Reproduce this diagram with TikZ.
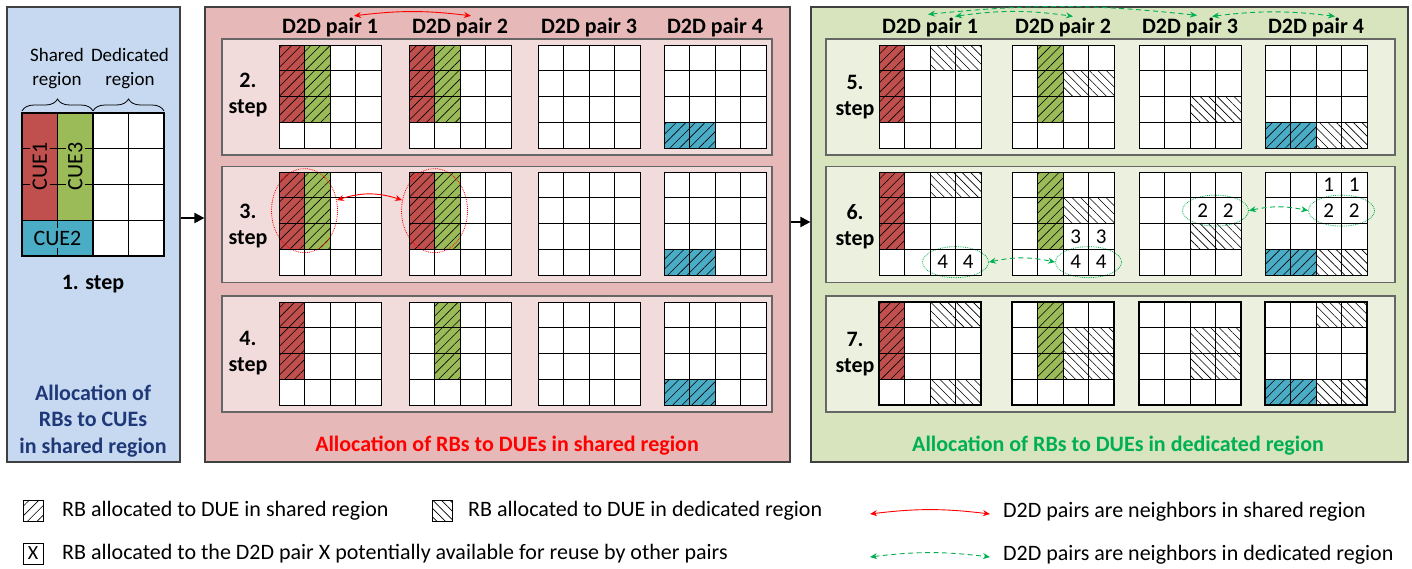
\documentclass[tikz,border=0pt]{standalone}
\usepackage{fontspec}
\setmainfont{Carlito}
\usetikzlibrary{arrows.meta, positioning, patterns.meta, shapes.geometric, decorations.pathreplacing}

\definecolor{cuered}{RGB}{192,80,77}
\definecolor{cuegreen}{RGB}{155,187,89}
\definecolor{cueblue}{RGB}{75,172,198}
\definecolor{panelblue}{RGB}{198,217,241}
\definecolor{panelred}{RGB}{230,185,184}
\definecolor{panelgreen}{RGB}{215,228,189}
\definecolor{boxred}{RGB}{242,220,219}
\definecolor{boxgreen}{RGB}{235,241,222}
\definecolor{titleblue}{RGB}{31,56,120}
\definecolor{dedgreen}{RGB}{0,176,80}

% 4x4 block of RBs, top left corner at (#2,#3), cells given in #4
\newcommand{\rbgrid}[4][cellline]{%
  \begin{scope}[shift={(#2,#3)}, x=25.5pt, y=-25.75pt]
    \fill[white] (0,0) rectangle (4,4);
    #4
    \foreach \k in {1,2,3} {
      \draw[cellline] (\k,0) -- (\k,4);
      \draw[cellline] (0,\k) -- (4,\k);
    }
    \draw[#1] (0,0) rectangle (4,4);
  \end{scope}}

\begin{document}
\begin{tikzpicture}[
    x=1pt, y=1pt,
    panel/.style={draw=black!75, line width=1.2pt, inner sep=0pt, minimum height=455pt},
    stepbox/.style={draw=black!60, line width=1.2pt, inner sep=0pt, minimum height=116pt},
    cellline/.style={black, line width=0.9pt},
    thickgrid/.style={black, line width=2.6pt},
    head/.style={font=\fontsize{22}{26}\selectfont\bfseries, inner sep=0pt},
    steplabel/.style={font=\fontsize{22}{26}\selectfont\bfseries, align=center, inner sep=0pt},
    title/.style={font=\fontsize{22}{26.5}\selectfont\bfseries, align=center, inner sep=0pt},
    regiontext/.style={font=\fontsize{19}{24}\selectfont, align=center, inner sep=0pt},
    cuetext/.style={font=\fontsize{22}{22}\selectfont, inner sep=0pt},
    num/.style={font=\fontsize{21}{21}\selectfont, inner sep=0pt},
    legendtext/.style={font=\fontsize{22}{22}\selectfont, anchor=west, inner sep=0pt},
    legendbox/.style={draw, line width=0.8pt, minimum width=20pt, minimum height=21pt, inner sep=0pt},
    sharedpat/.style={pattern={Lines[angle=45, distance=6.8pt, line width=0.6pt]}},
    shared/.style={postaction={sharedpat}},
    dedicated/.style={pattern={Lines[angle=-45, distance=6pt, line width=0.6pt]}},
    cuedash/.style={cellline, dash pattern=on 8pt off 19.5pt on 8pt off 0pt},
    sharedring/.style={ellipse, draw=red, densely dotted, line width=0.8pt, minimum width=66pt, minimum height=84pt, inner sep=0pt},
    dedring/.style={ellipse, draw=dedgreen, densely dotted, line width=0.8pt, minimum width=66pt, minimum height=31pt, inner sep=0pt},
    sharedlink/.style={red, line width=0.9pt, {Stealth[length=7pt, width=6pt]}-{Stealth[length=7pt, width=6pt]}},
    dedlink/.style={dedgreen, line width=0.9pt, dash pattern=on 5pt off 3.5pt, {Stealth[length=7pt, width=6pt]}-{Stealth[length=7pt, width=6pt]}},
    flow/.style={-{Triangle[length=10pt, width=10pt]}, line width=2pt},
    brace/.style={decorate, decoration={brace, amplitude=12pt}, line width=0.8pt}
]
\useasboundingbox (0,0) rectangle (1412,-568);

% Panels
\node[panel, fill=panelblue, minimum width=173pt] (p1) at (93.5,-234.5) {};
\node[panel, fill=panelred, minimum width=585pt] (p2) at (497.5,-234.5) {};
\node[panel, fill=panelgreen, minimum width=597pt] (p3) at (1109.5,-234.5) {};

% Step 1: RBs of the CUEs
\node[regiontext] (sreg) at (57,-69) {Shared\\region};
\node[regiontext] (dreg) at (130,-69) {Dedicated\\region};
\draw[brace] (22,-111) -- (93,-111);
\draw[brace] (93,-111) -- (164,-111);
\begin{scope}[shift={(22,-113)}, x=35.5pt, y=-35.75pt]
  \fill[white] (0,0) rectangle (4,4);
  \fill[cuered] (0,0) rectangle (1,3);
  \fill[cuegreen] (1,0) rectangle (2,3);
  \fill[cueblue] (0,3) rectangle (2,4);
  \draw[cuedash] (0,1) -- (2,1) (0,2) -- (2,2) (1,3) -- (1,4);
  \draw[cellline] (1,0) -- (1,3) (0,3) -- (2,3);
  \draw[cellline] (2,1) -- (4,1) (2,2) -- (4,2) (2,3) -- (4,3) (3,0) -- (3,4);
  \draw[thickgrid] (0,0) rectangle (4,4) (2,0) -- (2,4);
  \node[cuetext, rotate=90] (cue1) at (0.5,1.5) {CUE1};
  \node[cuetext, rotate=90] (cue3) at (1.5,1.5) {CUE3};
  \node[cuetext] (cue2) at (1,3.5) {CUE2};
\end{scope}
\node[steplabel] (s1) at (93,-284) {1. step};
\node[title, text=titleblue] (tl) at (93,-421) {Allocation of\\RBs to CUEs\\in shared region};

% Shared region: headers and step boxes
\node[head] (hm1) at (330,-28) {D2D pair 1};
\node[head] (hm2) at (460,-28) {D2D pair 2};
\node[head] (hm3) at (589,-28) {D2D pair 3};
\node[head] (hm4) at (715,-28) {D2D pair 4};
\node[stepbox, fill=boxred, minimum width=550pt] (b2) at (497,-97) {};
\node[stepbox, fill=boxred, minimum width=550pt] (b3) at (497,-224.5) {};
\node[stepbox, fill=boxred, minimum width=550pt] (b4) at (497,-354) {};
\node[steplabel] (s2) at (248,-95) {2.\\step};
\node[steplabel] (s3) at (248,-226) {3.\\step};
\node[steplabel] (s4) at (248,-353) {4.\\step};

% Step 2
\rbgrid{279}{-45}{\fill[cuered, shared] (0,0) rectangle (1,3); \fill[cuegreen, shared] (1,0) rectangle (2,3);}
\rbgrid{409}{-45}{\fill[cuered, shared] (0,0) rectangle (1,3); \fill[cuegreen, shared] (1,0) rectangle (2,3);}
\rbgrid{538}{-45}{}
\rbgrid{664}{-45}{\fill[cueblue, shared] (0,3) rectangle (2,4);}

% Step 3
\rbgrid{279}{-172}{\fill[cuered, shared] (0,0) rectangle (1,3); \fill[cuegreen, shared] (1,0) rectangle (2,3);
  \node[sharedring] (c3a) at (1,1.5) {};}
\rbgrid{409}{-172}{\fill[cuered, shared] (0,0) rectangle (1,3); \fill[cuegreen, shared] (1,0) rectangle (2,3);
  \node[sharedring] (c3b) at (1,1.5) {};}
\rbgrid{538}{-172}{}
\rbgrid{664}{-172}{\fill[cueblue, shared] (0,3) rectangle (2,4);}

% Step 4
\rbgrid{279}{-302}{\fill[cuered, shared] (0,0) rectangle (1,3);}
\rbgrid{409}{-302}{\fill[cuegreen, shared] (1,0) rectangle (2,3);}
\rbgrid{538}{-302}{}
\rbgrid{664}{-302}{\fill[cueblue, shared] (0,3) rectangle (2,4);}

\node[title, text=red] (tm) at (507,-446) {Allocation of RBs to DUEs in shared region};

% Neighbors in shared region
\draw[sharedlink] ([xshift=24pt, yshift=2.5pt]hm1.north) to[bend left=7] ([xshift=11pt, yshift=2.5pt]hm2.north);
\draw[sharedlink] (c3a.18) to[bend left=18] (c3b.162);

% Dedicated region: headers and step boxes
\node[head] (hr1) at (930,-28) {D2D pair 1};
\node[head] (hr2) at (1063,-28) {D2D pair 2};
\node[head] (hr3) at (1190,-28) {D2D pair 3};
\node[head] (hr4) at (1316,-28) {D2D pair 4};
\node[stepbox, fill=boxgreen, minimum width=569pt] (b5) at (1110.5,-97) {};
\node[stepbox, fill=boxgreen, minimum width=569pt] (b6) at (1110.5,-224.5) {};
\node[stepbox, fill=boxgreen, minimum width=569pt] (b7) at (1110.5,-354) {};
\node[steplabel] (s5) at (855,-97) {5.\\step};
\node[steplabel] (s6) at (855,-227) {6.\\step};
\node[steplabel] (s7) at (855,-354) {7.\\step};

% Step 5
\rbgrid{879}{-45}{\fill[cuered, shared] (0,0) rectangle (1,3); \path[dedicated] (2,0) rectangle (4,1);}
\rbgrid{1012}{-45}{\fill[cuegreen, shared] (1,0) rectangle (2,3); \path[dedicated] (2,1) rectangle (4,2);}
\rbgrid{1139}{-45}{\path[dedicated] (2,2) rectangle (4,3);}
\rbgrid{1265}{-45}{\fill[cueblue, shared] (0,3) rectangle (2,4); \path[dedicated] (2,3) rectangle (4,4);}

% Step 6
\rbgrid{879}{-172}{\fill[cuered, shared] (0,0) rectangle (1,3); \path[dedicated] (2,0) rectangle (4,1);
  \node[num] (n61a) at (2.5,3.5) {4}; \node[num] (n61b) at (3.5,3.5) {4};
  \node[dedring] (e61) at (3,3.5) {};}
\rbgrid{1012}{-172}{\fill[cuegreen, shared] (1,0) rectangle (2,3); \path[dedicated] (2,1) rectangle (4,2);
  \node[num] (n62a) at (2.5,2.5) {3}; \node[num] (n62b) at (3.5,2.5) {3};
  \node[num] (n62c) at (2.5,3.5) {4}; \node[num] (n62d) at (3.5,3.5) {4};
  \node[dedring] (e62) at (3,3.5) {};}
\rbgrid{1139}{-172}{\path[dedicated] (2,2) rectangle (4,3);
  \node[num] (n63a) at (2.5,1.5) {2}; \node[num] (n63b) at (3.5,1.5) {2};
  \node[dedring] (e63) at (3,1.5) {};}
\rbgrid{1265}{-172}{\fill[cueblue, shared] (0,3) rectangle (2,4); \path[dedicated] (2,3) rectangle (4,4);
  \node[num] (n64a) at (2.5,0.5) {1}; \node[num] (n64b) at (3.5,0.5) {1};
  \node[num] (n64c) at (2.5,1.5) {2}; \node[num] (n64d) at (3.5,1.5) {2};
  \node[dedring] (e64) at (3,1.5) {};}

% Step 7
\rbgrid[thickgrid]{879}{-302}{\fill[cuered, shared] (0,0) rectangle (1,3); \path[dedicated] (2,0) rectangle (4,1); \path[dedicated] (2,3) rectangle (4,4);}
\rbgrid[thickgrid]{1012}{-302}{\fill[cuegreen, shared] (1,0) rectangle (2,3); \path[dedicated] (2,1) rectangle (4,3);}
\rbgrid[thickgrid]{1139}{-302}{\path[dedicated] (2,1) rectangle (4,3);}
\rbgrid[thickgrid]{1265}{-302}{\fill[cueblue, shared] (0,3) rectangle (2,4); \path[dedicated] (2,0) rectangle (4,1); \path[dedicated] (2,3) rectangle (4,4);}

\node[title, text=dedgreen] (tr) at (1118,-446) {Allocation of RBs to DUEs in dedicated region};

% Neighbors in dedicated region
\draw[dedlink] ([xshift=25pt, yshift=2pt]hr1.north) to[bend left=8] ([xshift=10pt, yshift=2pt]hr2.north);
\draw[dedlink] ([xshift=-2pt, yshift=4pt]hr1.north) to[bend left=6] ([xshift=7pt, yshift=3pt]hr3.north);
\draw[dedlink] ([xshift=22pt, yshift=2pt]hr3.north) to[bend left=7] ([xshift=19pt, yshift=2pt]hr4.north);
\draw[dedlink] (e61.east) to[bend left=12] (e62.west);
\draw[dedlink] (e63.east) to[bend left=12] (e64.west);

% Flow between panels
\draw[flow] ([yshift=16.5pt]p1.east) -- ([yshift=16.5pt]p2.west);
\draw[flow] ([yshift=12.5pt]p2.east) -- ([yshift=12.5pt]p3.west);

% Legend
\node[legendbox, sharedpat] (lg1) at (33,-510.5) {};
\node[legendtext] (lt1) at (62,-511) {RB allocated to DUE in shared region};
\node[legendbox, dedicated] (lg2) at (442,-510.5) {};
\node[legendtext] (lt2) at (468,-511) {RB allocated to DUE in dedicated region};
\node[legendbox, font=\fontsize{20}{20}\selectfont] (lg3) at (33,-553.5) {X};
\node[legendtext] (lt3) at (62,-554) {RB allocated to the D2D pair X potentially available for reuse by other pairs};
\coordinate (ls1) at (870,-514);
\coordinate (ls2) at (990,-514);
\draw[sharedlink] (ls1) to[bend left=7] (ls2);
\node[legendtext] (lt4) at (1003,-512) {D2D pairs are neighbors in shared region};
\coordinate (ld1) at (870,-557);
\coordinate (ld2) at (990,-557);
\draw[dedlink] (ld1) to[bend left=7] (ld2);
\node[legendtext] (lt5) at (1003,-555) {D2D pairs are neighbors in dedicated region};

\end{tikzpicture}
\end{document}
